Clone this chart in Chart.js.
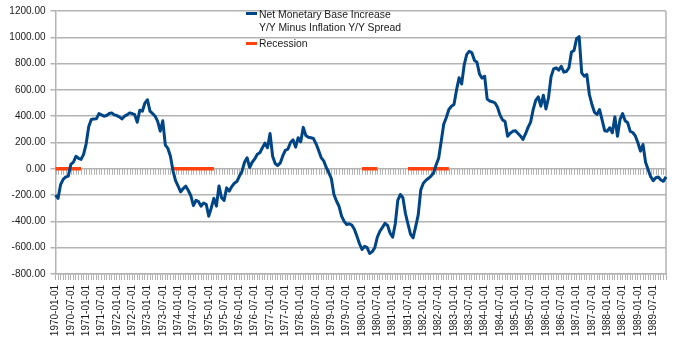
<!DOCTYPE html>
<html><head><meta charset="utf-8">
<script src="https://cdn.jsdelivr.net/npm/chart.js@4.4.0/dist/chart.umd.min.js"></script>
<style>
body{margin:0;background:#fff;}
#wrap{position:relative;width:675px;height:355px;}
#c{display:block;}
.lg{position:absolute;font-family:"Liberation Sans",Arial,sans-serif;font-size:10.4px;color:#1a1a1a;line-height:12.7px;white-space:nowrap;}
.sw{position:absolute;height:3px;width:11px;}
</style></head><body>
<div id="wrap"><canvas id="c" width="675" height="355"></canvas>
<div class="sw" style="left:246px;top:12px;background:#004586"></div>
<div class="lg" style="left:259px;top:9px">Net Monetary Base Increase<br>Y/Y Minus Inflation Y/Y Spread</div>
<div class="sw" style="left:246px;top:41.5px;background:#ff420e"></div>
<div class="lg" style="left:259px;top:37.5px">Recession</div>
</div>
<script>
const startYear = 1970, endYear = 1989;
const seriesName = 'Net Monetary Base Increase Y/Y Minus Inflation Y/Y Spread';
const spread = [
  -200, -225, -120, -80, -62, -56, 33, 50, 95, 80, 72, 110,        // 1970
  190, 320, 375, 378, 380, 420, 410, 400, 405, 420, 425, 410,      // 1971
  405, 395, 380, 400, 410, 425, 420, 412, 354, 445, 438, 500,      // 1972
  525, 438, 420, 400, 360, 286, 365, 180, 155, 95, -15, -90,       // 1973
  -132, -175, -150, -132, -165, -205, -280, -240, -250, -284, -260, -270, // 1974
  -360, -296, -225, -284, -130, -220, -240, -145, -170, -135, -110, -97,  // 1975
  -55, -20, 50, 84, 10, 50, 75, 110, 122, 160, 195, 160,           // 1976
  268, 96, 40, 25, 45, 100, 141, 150, 200, 220, 165, 236,          // 1977
  205, 315, 253, 240, 236, 230, 190, 140, 85, 60, 10, -30,         // 1978
  -75, -195, -245, -285, -360, -400, -423, -418, -428, -460, -512, -570, // 1979
  -613, -590, -600, -644, -630, -600, -520, -475, -445, -415, -430, -490, // 1980
  -520, -420, -240, -195, -220, -340, -420, -499, -524, -440, -350, -160, // 1981
  -110, -88, -72, -55, -32, 30, 80, 210, 340, 390, 451, 476,       // 1982
  489, 600, 692, 645, 790, 870, 894, 882, 825, 810, 720, 690,      // 1983
  704, 530, 516, 510, 502, 470, 410, 372, 360, 248, 270, 285,      // 1984
  290, 270, 250, 223, 265, 315, 355, 450, 520, 547, 476, 560,      // 1985
  455, 540, 700, 760, 768, 750, 780, 735, 740, 768, 888, 900,      // 1986
  990, 1005, 730, 704, 717, 565, 489, 430, 413, 451, 370, 290,     // 1987
  286, 312, 274, 395, 248, 375, 420, 365, 350, 285, 276, 250,      // 1988
  198, 134, 185, 50, -5, -60, -90, -68, -62, -85, -95, -61         // 1989
];
const recessionPeriods = [
  ['1970-01', '1970-11'],
  ['1973-11', '1975-03'],
  ['1980-01', '1980-07'],
  ['1981-07', '1982-11']
];
const yMin = -800, yMax = 1200, yStep = 200;

const categories = [];
for (let y = startYear; y <= endYear; y++)
  for (let m = 1; m <= 12; m++) categories.push(y + '-' + String(m).padStart(2, '0') + '-01');
const recession = categories.map(c => {
  const k = c.slice(0, 7);
  return recessionPeriods.some(([a, b]) => k >= a && k <= b) ? 0 : null;
});

const GRID = '#b3b3b3';
const FONT = '"Liberation Sans", Arial, sans-serif';
Chart.defaults.font.family = FONT;

const decor = {
  id: 'decor',
  beforeDatasetsDraw(chart) {
    const { ctx, chartArea: a, scales: { x, y } } = chart;
    const y0 = y.getPixelForValue(0);
    ctx.save();
    ctx.strokeStyle = GRID;
    ctx.lineWidth = 1;
    ctx.beginPath();
    for (let i = 0; i < categories.length; i++) {
      const px = Math.round(x.getPixelForValue(i)) + 0.5;
      ctx.moveTo(px, y0);
      ctx.lineTo(px, y0 + 6);
    }
    ctx.stroke();
    ctx.lineWidth = 1.5;
    ctx.beginPath();
    ctx.moveTo(a.right, a.top);
    ctx.lineTo(a.right, a.bottom);
    ctx.stroke();
    ctx.restore();
  }
};

new Chart(document.getElementById('c'), {
  type: 'line',
  data: {
    labels: categories,
    datasets: [
      { label: seriesName, data: spread, borderColor: '#004586', borderWidth: 3,
        pointRadius: 0, tension: 0, borderJoinStyle: 'round' },
      { label: 'Recession', data: recession, borderColor: '#ff420e', borderWidth: 3.5,
        pointRadius: 0, spanGaps: false }
    ]
  },
  options: {
    responsive: false,
    animation: false,
    events: [],
    layout: { padding: { top: 11, right: 9, left: 0, bottom: 0 } },
    plugins: { legend: { display: false }, tooltip: { enabled: false } },
    scales: {
      x: {
        type: 'category',
        offset: false,
        grid: { display: true, drawOnChartArea: false, drawTicks: true, tickLength: 6, color: GRID },
        border: { display: true, color: GRID, width: 1.5 },
        ticks: {
          autoSkip: false, maxRotation: 90, minRotation: 90, padding: 5,
          font: { size: 10 }, color: '#1a1a1a',
          callback: (v, i) => (i % 6 === 0 ? categories[i] : '')
        },
        afterFit(s) { s.height = 81; s.paddingLeft = 0; s.paddingRight = 0; }
      },
      y: {
        min: yMin, max: yMax,
        ticks: { stepSize: yStep, padding: 5, font: { size: 10 }, color: '#1a1a1a',
                 callback: v => Number(v).toFixed(2) },
        grid: { color: GRID, lineWidth: 1.5, tickLength: 5 },
        border: { display: true, color: GRID, width: 1.5 },
        afterFit(s) { s.width = 55.5; s.paddingTop = 0; s.paddingBottom = 0; }
      }
    }
  },
  plugins: [decor]
});
</script>
</body></html>
